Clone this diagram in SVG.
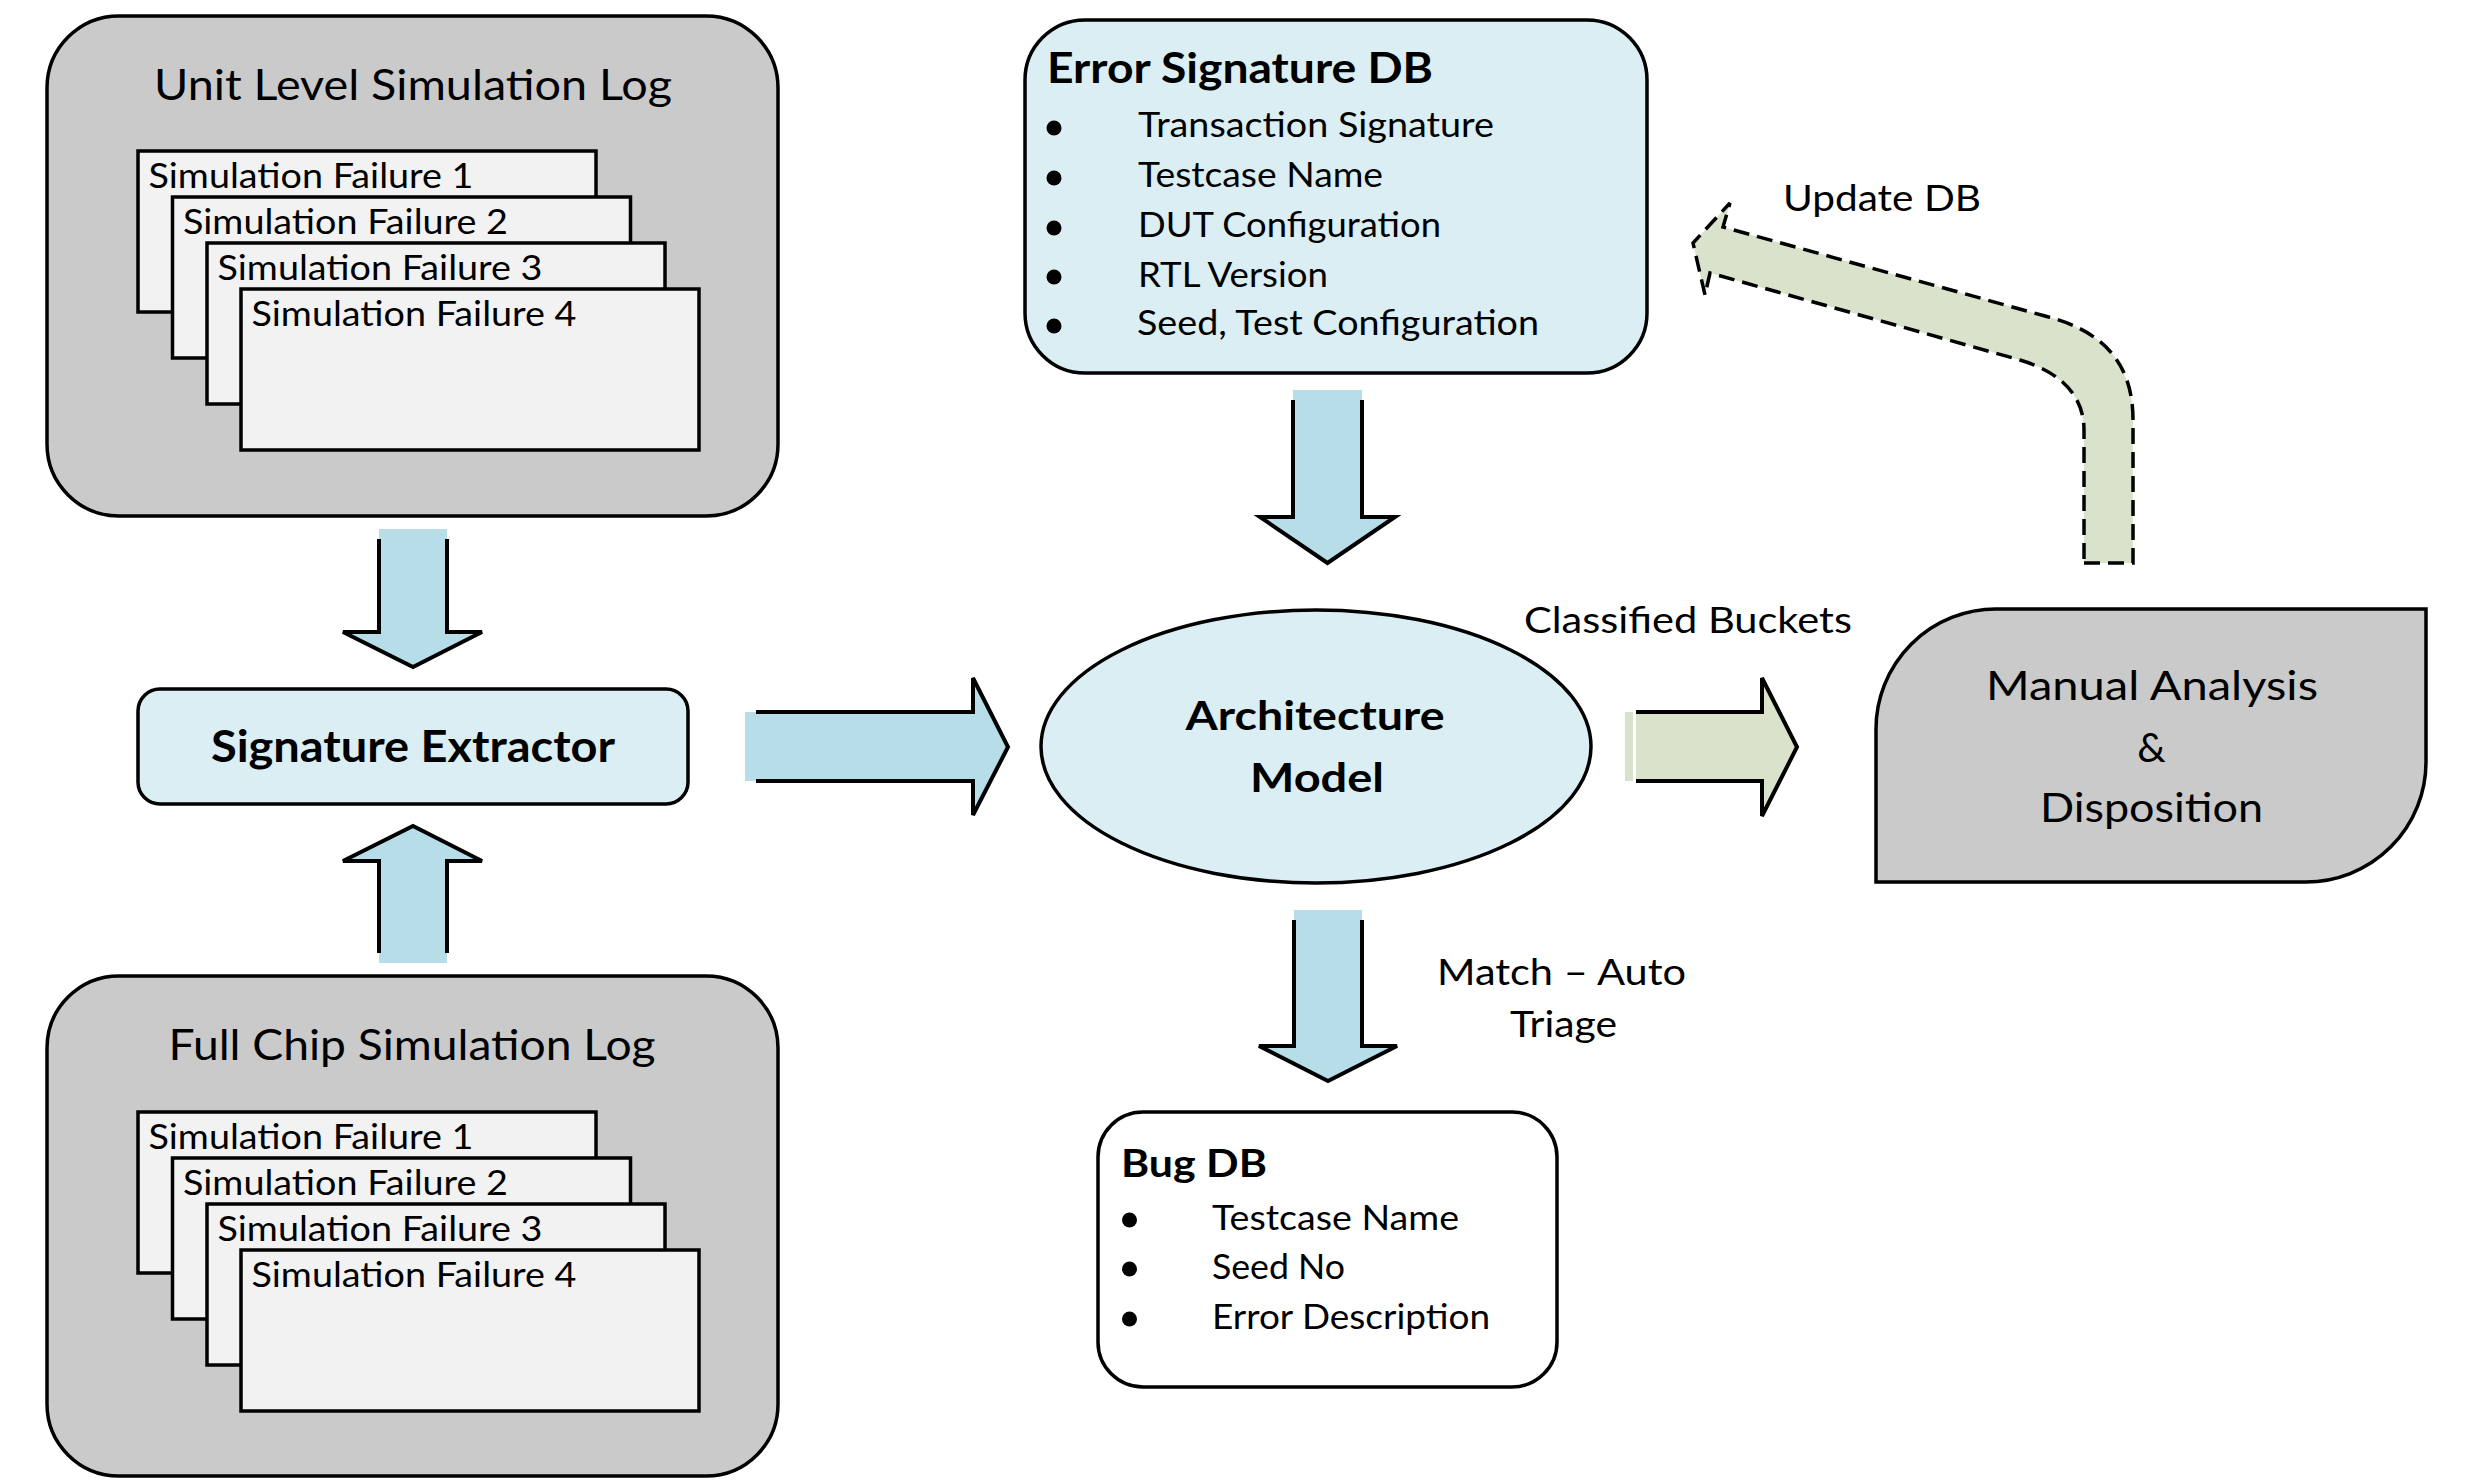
<svg xmlns="http://www.w3.org/2000/svg" width="2469" height="1482" viewBox="0 0 2469 1482">
<style>
.t{font-family:Lato,"Liberation Sans",sans-serif;fill:#000}
.b{font-weight:bold}
.gray{fill:#cacaca;stroke:#000;stroke-width:3.5}
.lb{fill:#daeef3;stroke:#000;stroke-width:3.5}
.wh{fill:#fff;stroke:#000;stroke-width:3.5}
.card{fill:#f2f2f2;stroke:#000;stroke-width:3.5}
.af{fill:#b7dde8;stroke:none}
.gf{fill:#d9e2cb;stroke:none}
.as{fill:none;stroke:#000;stroke-width:4;stroke-linejoin:miter}
.ds{stroke:#000;stroke-width:3.5;stroke-dasharray:16 8;stroke-linejoin:miter}
.s34{font-size:34px}
.s42{font-size:42px}
</style>
<rect width="2469" height="1482" fill="#fff"/>

<g id="unit-level-log">
<rect class="gray" x="47" y="16" width="731" height="500" rx="72"/>
<text class="t s42" x="413" y="100" text-anchor="middle" textLength="518" lengthAdjust="spacingAndGlyphs">Unit Level Simulation Log</text>
<rect class="card" x="138" y="151" width="458" height="161"/>
<text class="t s34" x="148.5" y="188" textLength="325" lengthAdjust="spacingAndGlyphs">Simulation Failure 1</text>
<rect class="card" x="172.5" y="197" width="458" height="161"/>
<text class="t s34" x="183" y="234" textLength="325" lengthAdjust="spacingAndGlyphs">Simulation Failure 2</text>
<rect class="card" x="207" y="243" width="458" height="161"/>
<text class="t s34" x="217.5" y="280" textLength="325" lengthAdjust="spacingAndGlyphs">Simulation Failure 3</text>
<rect class="card" x="241" y="289" width="458" height="161"/>
<text class="t s34" x="251.5" y="326" textLength="325" lengthAdjust="spacingAndGlyphs">Simulation Failure 4</text>
</g>

<g id="full-chip-log">
<rect class="gray" x="47" y="976" width="731" height="500" rx="72"/>
<text class="t s42" x="412" y="1060" text-anchor="middle" textLength="487" lengthAdjust="spacingAndGlyphs">Full Chip Simulation Log</text>
<rect class="card" x="138" y="1112" width="458" height="161"/>
<text class="t s34" x="148.5" y="1149" textLength="325" lengthAdjust="spacingAndGlyphs">Simulation Failure 1</text>
<rect class="card" x="172.5" y="1158" width="458" height="161"/>
<text class="t s34" x="183" y="1195" textLength="325" lengthAdjust="spacingAndGlyphs">Simulation Failure 2</text>
<rect class="card" x="207" y="1204" width="458" height="161"/>
<text class="t s34" x="217.5" y="1241" textLength="325" lengthAdjust="spacingAndGlyphs">Simulation Failure 3</text>
<rect class="card" x="241" y="1250" width="458" height="161"/>
<text class="t s34" x="251.5" y="1287" textLength="325" lengthAdjust="spacingAndGlyphs">Simulation Failure 4</text>
</g>

<g id="signature-extractor">
<rect class="lb" x="138" y="689" width="550" height="115" rx="22"/>
<text class="t b" x="413" y="762" font-size="44" text-anchor="middle" textLength="404" lengthAdjust="spacingAndGlyphs">Signature Extractor</text>
</g>

<g id="error-signature-db">
<rect class="lb" x="1025" y="20" width="622" height="353" rx="60"/>
<text class="t b" x="1047" y="83" font-size="42" textLength="386" lengthAdjust="spacingAndGlyphs">Error Signature DB</text>
<g fill="#000">
<circle cx="1054" cy="128" r="7.5"/>
<circle cx="1054" cy="178" r="7.5"/>
<circle cx="1054" cy="228" r="7.5"/>
<circle cx="1054" cy="277" r="7.5"/>
<circle cx="1054" cy="326" r="7.5"/>
</g>
<text class="t s34" x="1138" y="137" textLength="356" lengthAdjust="spacingAndGlyphs">Transaction Signature</text>
<text class="t s34" x="1138" y="187" textLength="245" lengthAdjust="spacingAndGlyphs">Testcase Name</text>
<text class="t s34" x="1138" y="237" textLength="303" lengthAdjust="spacingAndGlyphs">DUT Configuration</text>
<text class="t s34" x="1138" y="287" textLength="190" lengthAdjust="spacingAndGlyphs">RTL Version</text>
<text class="t s34" x="1137" y="335" textLength="402" lengthAdjust="spacingAndGlyphs">Seed, Test Configuration</text>
</g>

<g id="architecture-model">
<ellipse class="lb" cx="1316" cy="746.5" rx="275" ry="136.5"/>
<text class="t b" x="1315" y="730" font-size="40" text-anchor="middle" textLength="259" lengthAdjust="spacingAndGlyphs">Architecture</text>
<text class="t b" x="1317" y="792" font-size="40" text-anchor="middle" textLength="134" lengthAdjust="spacingAndGlyphs">Model</text>
</g>

<g id="manual-analysis">
<path class="gray" d="M1876 729 A120 120 0 0 1 1996 609 L2426 609 L2426 762 A120 120 0 0 1 2306 882 L1876 882 Z"/>
<text class="t" x="2152" y="700" font-size="40" text-anchor="middle" textLength="332" lengthAdjust="spacingAndGlyphs">Manual Analysis</text>
<text class="t" x="2151.5" y="762" font-size="40" text-anchor="middle">&amp;</text>
<text class="t" x="2151.5" y="822" font-size="40" text-anchor="middle" textLength="223" lengthAdjust="spacingAndGlyphs">Disposition</text>
</g>

<g id="bug-db">
<rect class="wh" x="1098" y="1112" width="459" height="275" rx="45"/>
<text class="t b" x="1121" y="1177" font-size="38" textLength="146" lengthAdjust="spacingAndGlyphs">Bug DB</text>
<g fill="#000">
<circle cx="1129.5" cy="1220" r="7.5"/>
<circle cx="1129.5" cy="1269" r="7.5"/>
<circle cx="1129.5" cy="1319" r="7.5"/>
</g>
<text class="t s34" x="1212" y="1230" textLength="247" lengthAdjust="spacingAndGlyphs">Testcase Name</text>
<text class="t s34" x="1212" y="1279" textLength="133" lengthAdjust="spacingAndGlyphs">Seed No</text>
<text class="t s34" x="1212" y="1329" textLength="278" lengthAdjust="spacingAndGlyphs">Error Description</text>
</g>

<g id="connectors">
<!-- Unit log to Signature Extractor -->
<polygon class="af" points="379,529 447,529 447,632 482,632 413,667 343,632 379,632"/>
<polyline class="as" points="379,539 379,632 343,632 413,667 482,632 447,632 447,539"/>
<!-- Full chip log to Signature Extractor -->
<polygon class="af" points="379,963 447,963 447,861 482,861 413,826 343,861 379,861"/>
<polyline class="as" points="379,953 379,861 343,861 413,826 482,861 447,861 447,953"/>
<!-- Signature Extractor to Architecture Model -->
<polygon class="af" points="745,712 973,712 973,678 1008,747 973,815 973,781 745,781"/>
<polyline class="as" points="756,712 973,712 973,678 1008,747 973,815 973,781 756,781"/>
<!-- Error Signature DB to Architecture Model -->
<polygon class="af" points="1293,390 1362,390 1362,517 1395,517 1327.5,563 1260,517 1293,517"/>
<polyline class="as" points="1293,400 1293,517 1260,517 1327.5,563 1395,517 1362,517 1362,400"/>
<!-- Architecture Model to Bug DB -->
<polygon class="af" points="1294,910 1362,910 1362,1046 1397,1046 1328,1081 1259,1046 1294,1046"/>
<polyline class="as" points="1294,920 1294,1046 1259,1046 1328,1081 1397,1046 1362,1046 1362,920"/>
<!-- Architecture Model to Manual Analysis -->
<rect class="gf" x="1625" y="712" width="8" height="69"/>
<polygon class="gf" points="1636,712 1762,712 1762,678 1797,747 1762,816 1762,781 1636,781"/>
<polyline class="as" points="1636,712 1762,712 1762,678 1797,747 1762,816 1762,781 1636,781"/>
<text class="t" x="1524" y="633" font-size="37" textLength="328" lengthAdjust="spacingAndGlyphs">Classified Buckets</text>
<!-- Manual Analysis to Error Signature DB (update) -->
<path class="gf ds" d="M2084 563 L2133 563 L2133 420 C2133 360 2100 330 2045 316 L1723 227 L1730 203 L1693 243 L1705 295 L1710 273 L2020 360 C2060 372 2084 395 2084 430 Z"/>
<text class="t" x="1783" y="211" font-size="37" textLength="198" lengthAdjust="spacingAndGlyphs">Update DB</text>
<text class="t" x="1437" y="985" font-size="37" textLength="249" lengthAdjust="spacingAndGlyphs">Match – Auto</text>
<text class="t" x="1510" y="1037" font-size="37" textLength="107" lengthAdjust="spacingAndGlyphs">Triage</text>
</g>
</svg>
